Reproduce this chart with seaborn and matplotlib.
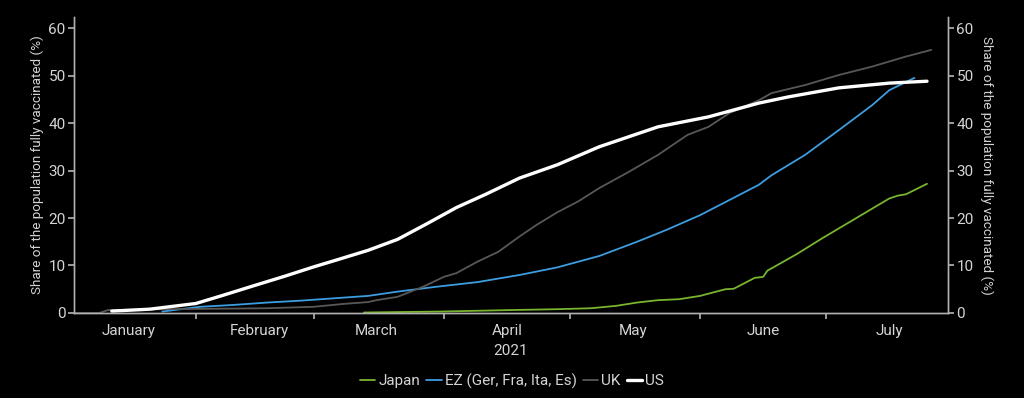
import matplotlib
matplotlib.use('Agg')
import matplotlib.pyplot as plt
import matplotlib.dates as mdates
from matplotlib.ticker import NullFormatter
import pandas as pd
import seaborn as sns

# values (share of population fully vaccinated, %)
japan_dates = ['2021-03-13', '2021-03-31', '2021-04-16', '2021-04-28', '2021-05-06', '2021-05-12',
               '2021-05-17', '2021-05-22', '2021-05-27', '2021-06-01', '2021-06-07', '2021-06-09',
               '2021-06-14', '2021-06-16', '2021-06-17', '2021-06-24', '2021-06-30', '2021-07-08',
               '2021-07-16', '2021-07-18', '2021-07-20', '2021-07-25']
japan_values = [0.1, 0.3, 0.6, 0.8, 1.0, 1.5, 2.2, 2.7, 2.9, 3.6, 5.0, 5.1,
                7.4, 7.6, 8.9, 12.4, 15.7, 19.9, 24.1, 24.7, 25.0, 27.2]

ez_dates = ['2021-01-24', '2021-02-02', '2021-02-10', '2021-02-18', '2021-02-26', '2021-03-06',
            '2021-03-14', '2021-03-21', '2021-03-30', '2021-04-09', '2021-04-19', '2021-04-28',
            '2021-05-08', '2021-05-17', '2021-05-24', '2021-06-01', '2021-06-08', '2021-06-15',
            '2021-06-18', '2021-06-26', '2021-07-04', '2021-07-12', '2021-07-16', '2021-07-22']
ez_values = [0.3, 1.3, 1.7, 2.2, 2.6, 3.1, 3.6, 4.5, 5.5, 6.5, 8.0, 9.6,
             12.0, 15.0, 17.5, 20.6, 23.8, 27.0, 29.0, 33.3, 38.5, 43.8, 46.9, 49.5]

uk_dates = ['2021-01-03', '2021-01-09', '2021-01-11', '2021-01-25', '2021-02-18', '2021-03-01',
            '2021-03-08', '2021-03-14', '2021-03-16', '2021-03-21', '2021-03-27', '2021-04-01',
            '2021-04-04', '2021-04-09', '2021-04-14', '2021-04-19', '2021-04-23', '2021-04-28',
            '2021-05-03', '2021-05-08', '2021-05-15', '2021-05-22', '2021-05-29', '2021-06-03',
            '2021-06-08', '2021-06-15', '2021-06-18', '2021-06-26', '2021-07-04', '2021-07-12',
            '2021-07-20', '2021-07-26']
uk_values = [0.0, 0.0, 0.6, 0.8, 1.0, 1.3, 1.9, 2.3, 2.7, 3.4, 5.5, 7.6,
             8.4, 10.8, 12.9, 16.1, 18.5, 21.2, 23.5, 26.3, 29.7, 33.3, 37.5, 39.2,
             42.1, 44.8, 46.3, 48.0, 50.1, 51.9, 54.0, 55.4]

us_dates = ['2021-01-12', '2021-01-21', '2021-02-01', '2021-02-07', '2021-02-15', '2021-02-22',
            '2021-03-01', '2021-03-07', '2021-03-14', '2021-03-21', '2021-03-28', '2021-04-04',
            '2021-04-11', '2021-04-19', '2021-04-28', '2021-05-08', '2021-05-22', '2021-06-03',
            '2021-06-15', '2021-06-22', '2021-07-04', '2021-07-16', '2021-07-25']
us_values = [0.4, 0.8, 2.0, 3.6, 5.8, 7.7, 9.7, 11.3, 13.2, 15.5, 18.8, 22.2,
             25.0, 28.4, 31.2, 35.0, 39.2, 41.3, 44.2, 45.5, 47.4, 48.4, 48.8]

text_col = '#d4d4d4'
spine_col = '#b0b0b0'

sns.set_theme(style='ticks')
plt.rcParams['font.family'] = ['Roboto', 'DejaVu Sans']

fig = plt.figure(figsize=(10.24, 3.98), dpi=100)
fig.patch.set_facecolor('black')
ax = fig.add_axes([0.0723, 0.2136, 0.8535, 0.7434])
ax.set_facecolor('black')

sns.lineplot(x=pd.to_datetime(japan_dates), y=japan_values, ax=ax, color='#78b52e', lw=1.3, label='Japan')
sns.lineplot(x=pd.to_datetime(ez_dates), y=ez_values, ax=ax, color='#3d9de0', lw=1.3, label='EZ (Ger, Fra, Ita, Es)')
sns.lineplot(x=pd.to_datetime(uk_dates), y=uk_values, ax=ax, color='#585858', lw=1.3, label='UK')
sns.lineplot(x=pd.to_datetime(us_dates), y=us_values, ax=ax, color='white', lw=2.4, label='US')

ax.set_xlim(pd.Timestamp('2021-01-03'), pd.Timestamp('2021-07-30'))
ax.set_ylim(0, 62.3)
ax.set_yticks(range(0, 61, 10))

ax.xaxis.set_major_locator(mdates.MonthLocator())
ax.xaxis.set_major_formatter(NullFormatter())
ax.xaxis.set_minor_locator(mdates.MonthLocator(bymonthday=16))
ax.xaxis.set_minor_formatter(mdates.DateFormatter('%B'))
ax.tick_params(axis='x', which='minor', length=0, labelsize=11, labelcolor=text_col, pad=8)
ax.tick_params(axis='x', which='major', length=4, color=spine_col)
ax.tick_params(axis='y', length=4, color=spine_col, labelsize=11, labelcolor=text_col, pad=2)
ax.set_xlabel('2021', color=text_col, fontsize=11, labelpad=4)
ax.set_ylabel('Share of the population fully vaccinated (%)', color=text_col, fontsize=9.7, labelpad=3)

ax2 = ax.twinx()
ax2.set_ylim(0, 62.3)
ax2.set_yticks(range(0, 61, 10))
ax2.tick_params(axis='y', length=4, color=spine_col, labelsize=11, labelcolor=text_col, pad=2)
ax2.set_ylabel('Share of the population fully vaccinated (%)', color=text_col, fontsize=9.7,
               rotation=270, labelpad=14)

for a in (ax, ax2):
    a.spines['top'].set_visible(False)
    for s in ('left', 'right', 'bottom'):
        a.spines[s].set_color(spine_col)
        a.spines[s].set_linewidth(1)

handles, labels = ax.get_legend_handles_labels()
ax.get_legend().remove()
leg = fig.legend(handles, labels, loc='center', bbox_to_anchor=(0.5, 0.043), ncol=4, frameon=False,
                 fontsize=11, handlelength=1.0, handletextpad=0.2, columnspacing=0.4)
for t in leg.get_texts():
    t.set_color(text_col)

fig.savefig('out.png', dpi=100, facecolor='black')
